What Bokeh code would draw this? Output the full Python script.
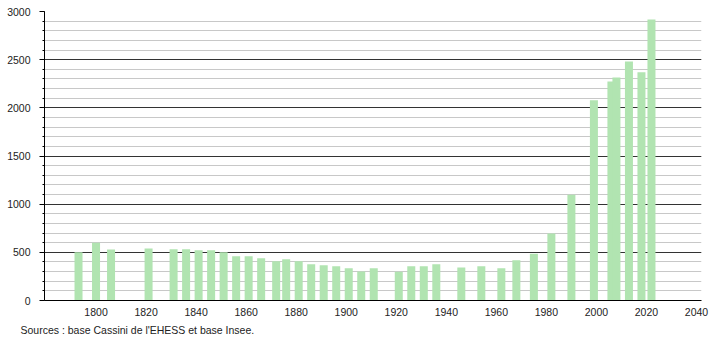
from bokeh.plotting import figure
from bokeh.models import Range1d, FixedTicker, Title
from bokeh.embed import file_html
from bokeh.resources import INLINE

years = [1793, 1800, 1806, 1821, 1831, 1836, 1841, 1846, 1851, 1856, 1861, 1866,
         1872, 1876, 1881, 1886, 1891, 1896, 1901, 1906, 1911, 1921, 1926, 1931,
         1936, 1946, 1954, 1962, 1968, 1975, 1982, 1990, 1999, 2006, 2008, 2013,
         2018, 2022]
population = [502, 599, 529, 540, 533, 533, 522, 522, 502, 460, 460, 439,
              408, 429, 408, 377, 367, 356, 336, 301, 336, 298, 356, 356,
              377, 343, 356, 336, 419, 484, 695, 1097, 2079, 2273, 2315, 2481,
              2370, 2916]
x_ticks = [1800, 1820, 1840, 1860, 1880, 1900, 1920, 1940, 1960, 1980, 2000, 2020, 2040]
y_ticks = [0, 500, 1000, 1500, 2000, 2500, 3000]
y_minor = list(range(0, 3001, 100))
source_text = "Sources : base Cassini de l'EHESS et base Insee."

FONT = "Liberation Sans"

p = figure(width=710, height=340, output_backend="svg", toolbar_location=None,
           x_range=Range1d(1779.4, 2042), y_range=Range1d(0, 3000),
           min_border_left=44, min_border_right=9, min_border_top=11,
           min_border_bottom=40)
p.outline_line_color = None
p.background_fill_color = "white"
p.border_fill_color = "white"

p.ygrid.ticker = FixedTicker(ticks=y_ticks, minor_ticks=y_minor)
p.ygrid.grid_line_color = "#333333"
p.ygrid.grid_line_width = 1
p.ygrid.minor_grid_line_color = "#c8c8c8"
p.ygrid.minor_grid_line_width = 1
p.xgrid.grid_line_color = None

p.vbar(x=years, top=population, width=3.2, bottom=0,
       fill_color="#b1e4b1", line_color=None)

xa = p.xaxis[0]
xa.ticker = FixedTicker(ticks=x_ticks)
xa.axis_line_color = "black"
xa.axis_line_width = 1
xa.major_tick_line_color = None
xa.minor_tick_line_color = None
xa.major_label_text_font = FONT
xa.major_label_text_font_size = "10.5px"
xa.major_label_text_color = "#222222"
xa.major_label_standoff = 1

ya = p.yaxis[0]
ya.ticker = FixedTicker(ticks=y_ticks, minor_ticks=y_minor)
ya.axis_line_color = "black"
ya.major_tick_line_color = "black"
ya.minor_tick_line_color = "black"
ya.major_tick_in = 0
ya.major_tick_out = 5
ya.minor_tick_in = 0
ya.minor_tick_out = 2
ya.major_label_text_font = FONT
ya.major_label_text_font_size = "10.5px"
ya.major_label_text_color = "#222222"
ya.major_label_standoff = 9

src = Title(text=source_text, align="left", offset=-24,
            text_font=FONT, text_font_size="10.5px", text_font_style="normal",
            text_color="#222222", standoff=6)
p.add_layout(src, "below")

open("out.html", "w").write(file_html(p, INLINE))
